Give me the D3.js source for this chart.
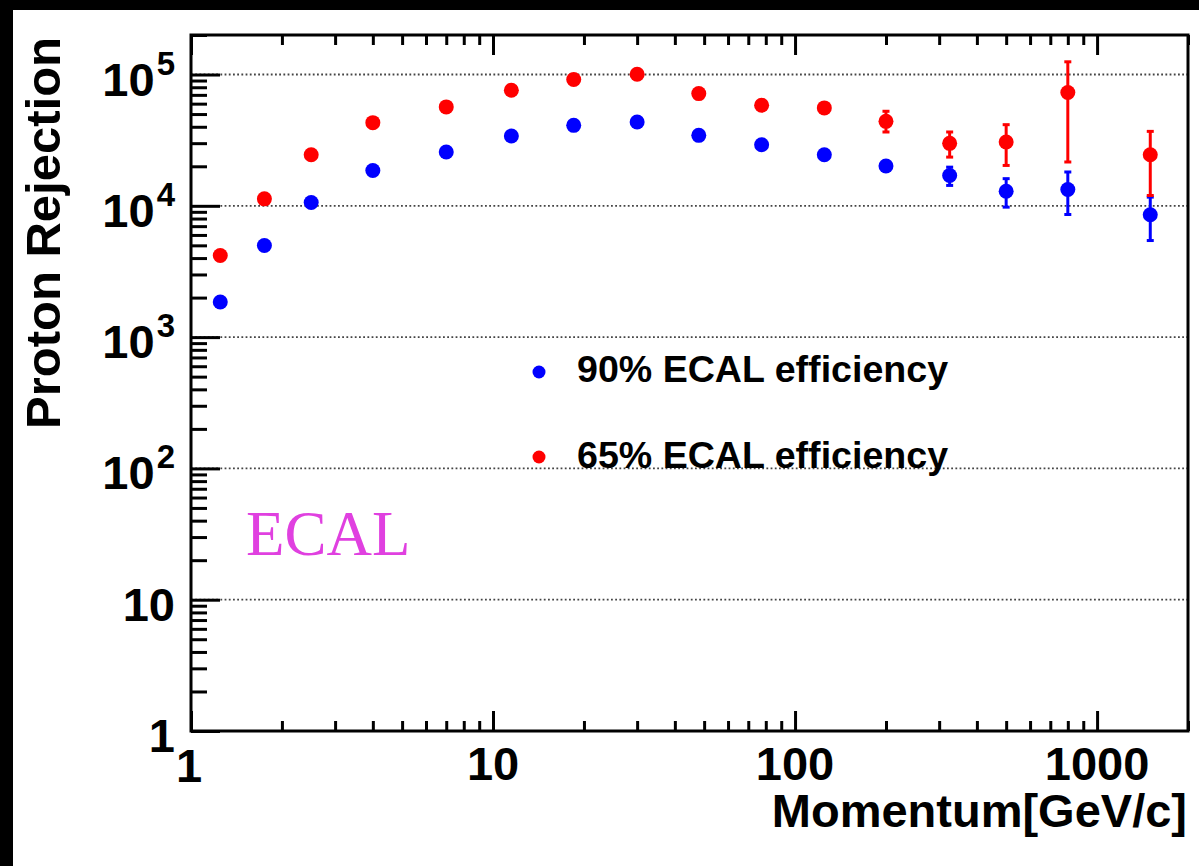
<!DOCTYPE html>
<html>
<head>
<meta charset="utf-8">
<script src="https://cdn.jsdelivr.net/npm/d3@7/dist/d3.min.js"></script>
<style>
  body { margin: 0; background: #000; }
  svg { display: block; }
</style>
</head>
<body>
<div class="chart"></div>
<script>
// momentum bins (GeV/c)
var momentum = [1.25, 1.75, 2.5, 4, 7, 11.5, 18.5, 30, 48, 77.5, 125, 200, 325, 500, 800, 1500];

// 90% ECAL efficiency (blue)
var rej90 = [1850, 4980, 10600, 18600, 25700, 34000, 41000, 43500, 34400, 29200, 24500, 20100, 17000, 12900, 13300, 8540];
var rej90Low = [null, null, null, null, null, null, null, null, null, null, null, null, 14300, 9770, 8590, 5440];
var rej90High = [null, null, null, null, null, null, null, null, null, null, null, null, 19700, 16100, 18100, 11650];

// 65% ECAL efficiency (red)
var rej65 = [4180, 11300, 24500, 43000, 56700, 75900, 91600, 100500, 71600, 58300, 55700, 44000, 29900, 30600, 72900, 24500];
var rej65Low = [null, null, null, null, null, null, null, null, null, null, null, 36500, 23500, 20300, 21570, 11990];
var rej65High = [null, null, null, null, null, null, null, null, null, null, null, 52500, 36500, 41500, 125000, 36900];

var xMajor = [1, 10, 100, 1000];
var xMajorLabels = ['1', '10', '100', '1000'];
var yMajor = [1, 10, 100, 1000, 10000, 100000];
var yLabelBase = ['1', '10', '10', '10', '10', '10'];
var yLabelExp = ['', '', '2', '3', '4', '5'];

var seriesNames = ['90% ECAL efficiency', '65% ECAL efficiency'];
var seriesColors = ['#0000ff', '#ff0000'];

var W = 1199, H = 866;
var padL = 191, padR = 1188, padT = 35, padB = 731;

var svg = d3.select('.chart')
	.append('svg')
	.attr('width', W)
	.attr('height', H);

// white canvas inside the black border
svg.append('rect')
	.attr('x', 13)
	.attr('y', 10)
	.attr('width', W - 13)
	.attr('height', H - 10)
	.attr('fill', '#fff');

var x = d3.scaleLog().domain([1, 2000]).range([padL, padR]);
var y = d3.scaleLog().domain([1, 200000]).range([padB, padT]);

var font = '"Liberation Sans", Arial, Helvetica, sans-serif';

// minor ticks 2..9 per decade
var xMinor = [];
[1, 10, 100, 1000].forEach(function(d){
	for (var k = 2; k <= 9; k++) {
		if (d * k <= 2000) xMinor.push(d * k);
	}
});
var yMinor = [];
[1, 10, 100, 1000, 10000, 100000].forEach(function(d){
	for (var k = 2; k <= 9; k++) {
		if (d * k <= 200000) yMinor.push(d * k);
	}
});

// grid lines (dotted)
svg.append('g')
	.selectAll('line')
	.data(yMajor.slice(1))
	.enter()
	.append('line')
	.attr('x1', padL)
	.attr('x2', padR)
	.attr('y1', function(d){ return y(d); })
	.attr('y2', function(d){ return y(d); })
	.attr('stroke', '#444')
	.attr('stroke-width', 1.8)
	.attr('stroke-dasharray', '1.8,2.4');

function tickGroup(axis, tx, ty) {
	var g = svg.append('g')
		.attr('transform', 'translate(' + tx + ',' + ty + ')')
		.call(axis);
	g.select('.domain').remove();
	g.selectAll('line').attr('stroke', '#000').attr('stroke-width', 3);
	g.selectAll('text').remove();
	return g;
}

// x ticks bottom and top, pointing inward
tickGroup(d3.axisBottom(x).tickValues(xMinor).tickSize(-10), 0, padB);
tickGroup(d3.axisBottom(x).tickValues(xMajor).tickSize(-20), 0, padB);
tickGroup(d3.axisTop(x).tickValues(xMinor).tickSize(-10), 0, padT);
tickGroup(d3.axisTop(x).tickValues(xMajor).tickSize(-20), 0, padT);

// y ticks on the left, pointing inward
tickGroup(d3.axisLeft(y).tickValues(yMinor).tickSize(-16), padL, 0);
tickGroup(d3.axisLeft(y).tickValues(yMajor).tickSize(-29), padL, 0);

// frame
svg.append('rect')
	.attr('x', padL)
	.attr('y', padT)
	.attr('width', padR - padL)
	.attr('height', padB - padT)
	.attr('fill', 'none')
	.attr('stroke', '#000')
	.attr('stroke-width', 3);

// x tick labels
svg.append('g')
	.selectAll('text')
	.data(xMajor)
	.enter()
	.append('text')
	.attr('x', function(d){ return x(d) - (d === 1 ? 2 : 0); })
	.attr('y', function(d){ return d === 1 ? 782 : 780; })
	.attr('text-anchor', 'middle')
	.attr('font-family', font)
	.attr('font-weight', 'bold')
	.attr('font-size', '47px')
	.attr('fill', '#000')
	.text(function(d, i){ return xMajorLabels[i]; });

// y tick labels with exponents
var yl = svg.append('g')
	.selectAll('text')
	.data(yMajor)
	.enter()
	.append('text')
	.attr('x', 175)
	.attr('y', function(d){ return d === 1 ? 752 : y(d) + 21; })
	.attr('text-anchor', 'end')
	.attr('font-family', font)
	.attr('font-weight', 'bold')
	.attr('font-size', '47px')
	.attr('fill', '#000');
yl.append('tspan')
	.text(function(d, i){ return yLabelBase[i]; });
yl.append('tspan')
	.attr('dx', 2)
	.attr('dy', -21)
	.attr('font-size', '33px')
	.text(function(d, i){ return yLabelExp[i]; });

// axis titles
svg.append('text')
	.attr('x', 1187)
	.attr('y', 827)
	.attr('text-anchor', 'end')
	.attr('font-family', font)
	.attr('font-weight', 'bold')
	.attr('font-size', '47px')
	.attr('fill', '#000')
	.text('Momentum[GeV/c]');

svg.append('text')
	.attr('transform', 'translate(60,37) rotate(-90)')
	.attr('text-anchor', 'end')
	.attr('font-family', font)
	.attr('font-weight', 'bold')
	.attr('font-size', '49px')
	.attr('fill', '#000')
	.text('Proton Rejection');

// data series
var series = [
	{ vals: rej90, lo: rej90Low, hi: rej90High, color: seriesColors[0] },
	{ vals: rej65, lo: rej65Low, hi: rej65High, color: seriesColors[1] }
];

series.forEach(function(s){
	var pts = momentum.map(function(m, i){
		return { m: m, v: s.vals[i], lo: s.lo[i], hi: s.hi[i] };
	});
	var errPts = pts.filter(function(p){ return p.lo !== null; });
	var g = svg.append('g');

	g.selectAll('line.bar')
		.data(errPts)
		.enter()
		.append('line')
		.attr('class', 'bar')
		.attr('x1', function(p){ return x(p.m); })
		.attr('x2', function(p){ return x(p.m); })
		.attr('y1', function(p){ return y(p.lo); })
		.attr('y2', function(p){ return y(p.hi); })
		.attr('stroke', s.color)
		.attr('stroke-width', 3);

	['lo', 'hi'].forEach(function(k){
		g.selectAll('line.cap-' + k)
			.data(errPts)
			.enter()
			.append('line')
			.attr('class', 'cap-' + k)
			.attr('x1', function(p){ return x(p.m) - 3.5; })
			.attr('x2', function(p){ return x(p.m) + 3.5; })
			.attr('y1', function(p){ return y(p[k]); })
			.attr('y2', function(p){ return y(p[k]); })
			.attr('stroke', s.color)
			.attr('stroke-width', 3);
	});

	g.selectAll('circle')
		.data(pts)
		.enter()
		.append('circle')
		.attr('cx', function(p){ return x(p.m); })
		.attr('cy', function(p){ return y(p.v); })
		.attr('r', 7.5)
		.attr('fill', s.color);
});

// legend
var legendY = [372, 457];
var leg = svg.append('g')
	.selectAll('g')
	.data(seriesNames)
	.enter()
	.append('g');
leg.append('circle')
	.attr('cx', 539)
	.attr('cy', function(d, i){ return legendY[i]; })
	.attr('r', 6.5)
	.attr('fill', function(d, i){ return seriesColors[i]; });
leg.append('text')
	.attr('x', 577)
	.attr('y', function(d, i){ return legendY[i] + 10 + i * 1; })
	.attr('font-family', font)
	.attr('font-weight', 'bold')
	.attr('font-size', '37.6px')
	.attr('fill', '#000')
	.text(function(d){ return d; });

// ECAL label
svg.append('text')
	.attr('x', 246)
	.attr('y', 555)
	.attr('font-family', '"Liberation Serif", "Times New Roman", serif')
	.attr('font-size', '63px')
	.attr('fill', '#e040e0')
	.text('ECAL');
</script>
</body>
</html>
